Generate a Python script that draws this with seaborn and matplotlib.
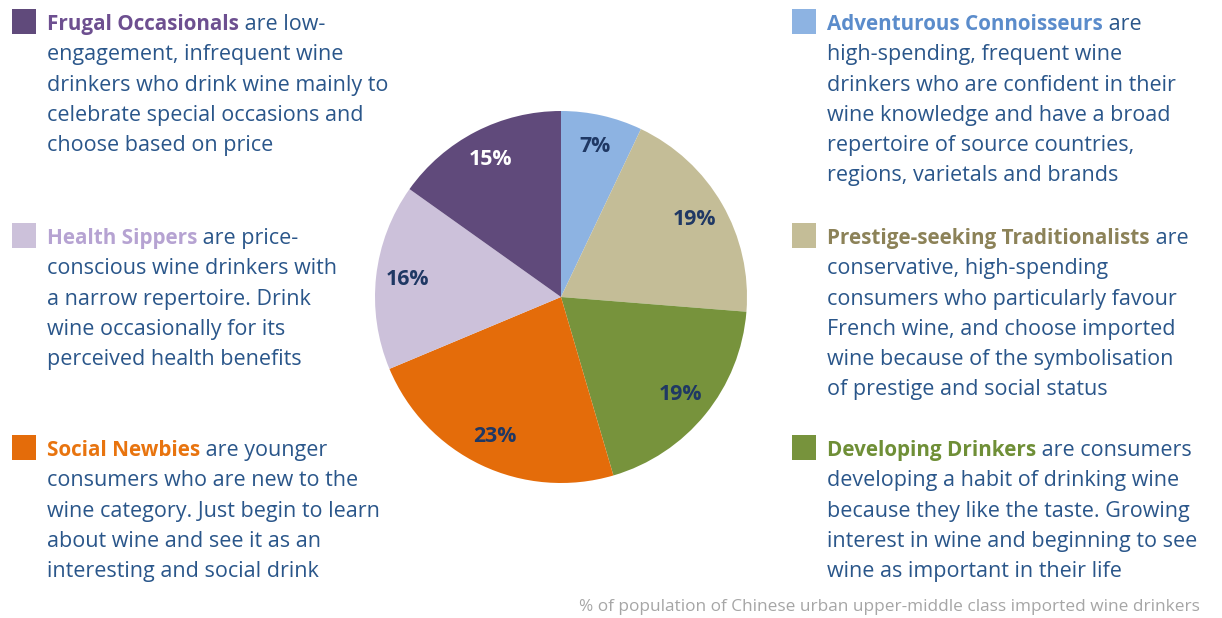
import matplotlib
matplotlib.use("Agg")
import matplotlib.pyplot as plt
from matplotlib.patches import Rectangle
import seaborn as sns

# Segments in clockwise order starting from 12 o'clock
segments = ["Adventurous Connoisseurs", "Prestige-seeking Traditionalists",
            "Developing Drinkers", "Social Newbies", "Health Sippers",
            "Frugal Occasionals"]
shares = [7, 19, 19, 23, 16, 15]
slice_colors = ["#8db3e2", "#c4bd97", "#77933c", "#e46c0a", "#ccc1da", "#604a7b"]
name_colors = ["#5b8ccb", "#8c8258", "#6f8f37", "#e8740f", "#b6a3d2", "#6d4f90"]
pct_colors = ["#1f3864", "#1f3864", "#1f3864", "#1f3864", "#1f3864", "white"]

descriptions = [
    [" are", "high-spending, frequent wine", "drinkers who are confident in their",
     "wine knowledge and have a broad", "repertoire of source countries,",
     "regions, varietals and brands"],
    [" are", "conservative, high-spending", "consumers who particularly favour",
     "French wine, and choose imported", "wine because of the symbolisation",
     "of prestige and social status"],
    [" are consumers", "developing a habit of drinking wine",
     "because they like the taste. Growing", "interest in wine and beginning to see",
     "wine as important in their life"],
    [" are younger", "consumers who are new to the",
     "wine category. Just begin to learn", "about wine and see it as an",
     "interesting and social drink"],
    [" are price-", "conscious wine drinkers with", "a narrow repertoire. Drink",
     "wine occasionally for its", "perceived health benefits"],
    [" are low-", "engagement, infrequent wine", "drinkers who drink wine mainly to",
     "celebrate special occasions and", "choose based on price"],
]
footnote = "% of population of Chinese urban upper-middle class imported wine drinkers"

sns.set_theme(style="white")
plt.rcParams["font.family"] = ["Open Sans", "DejaVu Sans"]

W, H = 1222, 618
fig = plt.figure(figsize=(W / 100, H / 100), dpi=100)
fig.patch.set_facecolor("white")

# Pie axes: centre (561, 297) px, radius 186 px
cx, cy, r = 561, 297, 186
pie_ax = fig.add_axes([(cx - r) / W, (H - cy - r) / H, 2 * r / W, 2 * r / H])
total = sum(shares)
wedges, _, pct_texts = pie_ax.pie(
    shares, colors=sns.color_palette(slice_colors), startangle=90,
    counterclock=False, autopct=lambda p: f"{p * total / 100:.0f}%",
    pctdistance=0.83, wedgeprops=dict(linewidth=0))
for t, c in zip(pct_texts, pct_colors):
    t.set_color(c)
    t.set_fontsize(15.3)
    t.set_fontweight("bold")
pie_ax.set_xlim(-1, 1)
pie_ax.set_ylim(-1, 1)
pie_ax.set_aspect("equal")
pie_ax.axis("off")

# Overlay axes in pixel coordinates for the text blocks
txt_ax = fig.add_axes([0, 0, 1, 1])
txt_ax.set_xlim(0, W)
txt_ax.set_ylim(H, 0)
txt_ax.axis("off")

body_color = "#2a568a"
fs = 15.5
name_fs = 14.9
line_h = 30.3
# (square x, text x, first baseline) per segment
layout = [(792, 827, 30), (792, 827, 244), (792, 827, 456),
          (12, 47, 456), (12, 47, 244), (12, 47, 30)]

for name, desc, ncol, scol, (sx, tx, base) in zip(
        segments, descriptions, name_colors, slice_colors, layout):
    txt_ax.add_patch(Rectangle((sx, base - 21), 24, 25, facecolor=scol,
                               edgecolor="none"))
    head = txt_ax.text(tx, base, name, color=ncol, fontsize=name_fs,
                       fontweight="bold", va="baseline", ha="left")
    txt_ax.annotate(desc[0], xy=(1, 0), xycoords=head, va="bottom", ha="left",
                    color=body_color, fontsize=fs)
    for i, line in enumerate(desc[1:], start=1):
        txt_ax.text(tx, base + i * line_h, line, color=body_color, fontsize=fs,
                    va="baseline", ha="left")

txt_ax.text(1200, 611, footnote, color="#a6a6a6", fontsize=12.4,
            va="baseline", ha="right")

fig.savefig("out.png", dpi=100, facecolor="white")
